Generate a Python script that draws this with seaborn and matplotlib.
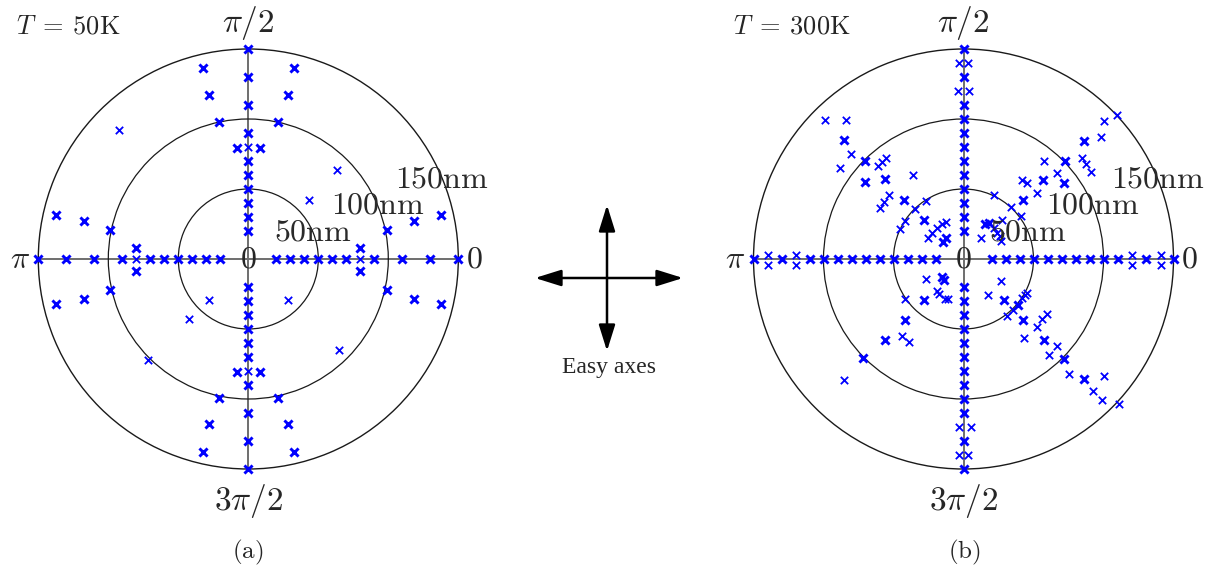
import numpy as np
import matplotlib
matplotlib.use("Agg")
import matplotlib.pyplot as plt
from matplotlib.patches import FancyArrowPatch
import seaborn as sns

# ---------------- data (positions in nm, x to the right, y up) ----------------
# Panel (a): T = 50 K
a_axis_up_y = [20, 30, 40, 50, 60, 70, 90, 110, 130, 150]
a_axis_down_y = [-20, -30, -40, -50, -60, -70, -90, -110, -130, -150]
a_axis_left_x = [-20, -30, -40, -50, -60, -70, -90, -110, -130, -150]
a_axis_right_x = [20, 30, 40, 50, 60, 70, 90, 110, 130, 150]
a_off_x = [-8.4, 8.4, -21.1, 21.1, -28.3, 28.3, -32.4, 32.4,
           -8.4, 8.4, -21.1, 21.1, -28.3, 28.3, -32.4, 32.4,
           -137.4, -117.5, -98.8, -79.9, -79.9, -98.8, -117.5, -137.4,
           137.9, 118.0, 99.0, 79.9, 79.9, 99.0, 118.0, 137.9]
a_off_y = [79.6, 79.6, 98.0, 98.0, 116.8, 116.8, 136.4, 136.4,
           -81.0, -81.0, -99.0, -99.0, -117.8, -117.8, -137.9, -137.9,
           31.2, 27.3, 20.9, 7.7, -8.4, -21.8, -28.5, -32.4,
           31.2, 27.3, 20.9, 7.7, -8.4, -21.8, -28.5, -32.4]
a_thin_x = [0, 0, -80, 80, -92.3, 63.5, 43.0, -28.3, 28.3, -42.7, 64.7, -71.5]
a_thin_y = [80, -80, 0, 0, 92.3, 63.5, 42.4, -29.5, -29.5, -43.2, -64.7, -72.0]

# Panel (b): T = 300 K
b_axis_up_y = [20, 30, 40, 50, 60, 70, 80, 90, 100, 110, 130, 150]
b_axis_down_y = [-20, -30, -40, -50, -60, -70, -80, -90, -100, -110, -130, -150]
b_axis_left_x = [-20, -30, -40, -50, -60, -70, -80, -90, -100, -110, -130, -150]
b_axis_right_x = [20, 30, 40, 50, 60, 70, 80, 90, 100, 110, 130, 150]
b_pair_x = [-3, 3, -4, 4, -3, 5, -3, 3, -140, -140, -120, -120, 120, 120, 141, 141]
b_pair_y = [140, 140, 120, 120, -120, -120, -140, -140, 3, -4, 3, -4, 3, -4, 3, -4]
b_bold_x = [-85.6, -70.7, -70.7, -56.4, -42.4, -28.1, -14.4, -12.5,
            85.9, 72.4, 71.9, 57.1, 42.7, 15.6, 18.0,
            -15.6, -13.9, -28.1, -42.0, -56.4, -71.5,
            28.8, 39.1, 42.7, 57.6, 71.9, 85.9]
b_bold_y = [84.9, 70.0, 54.9, 56.8, 42.4, 28.1, 12.5, 15.3,
            84.4, 69.8, 54.4, 56.4, 42.4, 24.9, 25.4,
            -12.7, -15.1, -29.0, -43.4, -57.8, -71.0,
            -29.0, -33.1, -43.4, -57.8, -71.5, -85.9]
b_thin_x = [-98.8, -83.9, -80.3, -88.2, -61.2, -58.3, -55.2, -36.0, -59.5, -56.8,
            -53.2, -34.3, -26.9, -45.1, -41.5, -25.7, -22.3, -19.2, -15.6, -12.7,
            109.6, 100.7, 98.3, 84.7, 87.5, 91.1, 57.6, 66.7, 42.0, 45.1,
            52.3, 21.6, 33.6, 40.8, 27.6, 21.6, 24.0, 26.4, 12.5, 27.1,
            -26.9, -18.7, -17.3, -13.2, -11.3, -41.5, -43.6, -38.8, -85.1,
            27.1, 17.3, 42.0, 43.9, 45.6, 35.5, 31.2, 52.3, 55.9, 59.5,
            43.2, 66.7, 61.2, 75.5, 100.7, 92.3, 99.0, 110.8]
b_thin_y = [99.5, 99.5, 75.3, 65.2, 66.4, 69.3, 72.0, 60.0, 36.5, 40.5,
            45.6, 35.7, 41.7, 21.6, 26.9, 14.9, 18.5, 22.1, 24.9, 26.1,
            102.9, 98.6, 86.8, 71.9, 68.1, 62.4, 69.8, 61.6, 56.1, 54.4,
            47.2, 45.6, 37.2, 30.5, 28.1, 22.1, 18.9, 16.1, 15.3, 13.2,
            -14.4, -23.0, -24.7, -28.3, -28.3, -28.3, -55.2, -59.5, -86.3,
            -15.8, -25.9, -27.8, -25.4, -24.0, -36.7, -41.0, -48.7, -43.2, -39.6,
            -56.4, -61.9, -68.3, -81.8, -83.5, -94.2, -100.7, -103.4]

theta_ticks = [0, np.pi / 2, np.pi, 3 * np.pi / 2]
theta_labels = [r"$0$", r"$\pi/2$", r"$\pi$", r"$3\pi/2$"]
ring_values = [50, 100]
r_label_values = [50, 100, 150]
r_label_texts = [r"$50\mathrm{nm}$", r"$100\mathrm{nm}$", r"$150\mathrm{nm}$"]
temp_labels = [r"$T\;=\:50\mathrm{K}$", r"$T\;=\:300\mathrm{K}$"]
panel_labels = [r"$(\mathrm{a})$", r"$(\mathrm{b})$"]

# ---------------- style ----------------
sns.set_style("white")
plt.rcParams["mathtext.fontset"] = "cm"
plt.rcParams["font.family"] = ["DejaVu Serif"]

W, H = 1217, 575
fig = plt.figure(figsize=(W / 100, H / 100), dpi=100)


def pol(xs, ys):
    xs = np.asarray(xs, float)
    ys = np.asarray(ys, float)
    return np.arctan2(ys, xs), np.hypot(xs, ys)


def axis_pts(up, down, left, right):
    xs = [0] * len(up) + [0] * len(down) + list(left) + list(right)
    ys = list(up) + list(down) + [0] * len(left) + [0] * len(right)
    return xs, ys


def setup(ax):
    ax.set_ylim(0, 150)
    ax.set_yticks(ring_values)
    ax.set_yticklabels([])
    ax.set_xticks(theta_ticks)
    ax.set_xticklabels([])
    ax.tick_params(length=0)
    ax.set_axisbelow(True)
    ax.xaxis.grid(True, color="#6e6e6e", lw=1.4)
    ax.yaxis.grid(True, color="#1a1a1a", lw=0.9)
    ax.spines["polar"].set_color("#1a1a1a")
    ax.spines["polar"].set_linewidth(1.0)
    # theta labels
    ax.text(1.018, 0.5, theta_labels[0], transform=ax.transAxes, ha="left", va="center", fontsize=23)
    ax.text(0.5, 1.017, theta_labels[1], transform=ax.transAxes, ha="center", va="bottom", fontsize=24)
    ax.text(-0.02, 0.5, theta_labels[2], transform=ax.transAxes, ha="right", va="center", fontsize=23)
    ax.text(0.5, -0.03, theta_labels[3], transform=ax.transAxes, ha="center", va="top", fontsize=24)
    # radial labels
    ax.text(0, 0, r"$0$", ha="center", va="center", fontsize=23, zorder=5)
    for rv, rt in zip(r_label_values, r_label_texts):
        ax.text(np.deg2rad(22.5), rv, rt, ha="center", va="center", fontsize=23, color="#2a2a2a", zorder=5)


def draw(ax, xs, ys, lw, s):
    th, r = pol(xs, ys)
    sns.scatterplot(x=th, y=r, ax=ax, marker="x", color="blue", s=s, linewidth=lw,
                    clip_on=False, zorder=4, legend=False)


R = 210
axA = fig.add_axes([(248.3 - R) / W, (H - 259 - R) / H, 2 * R / W, 2 * R / H], projection="polar")
axB = fig.add_axes([(963.5 - R) / W, (H - 259 - R) / H, 2 * R / W, 2 * R / H], projection="polar")

for ax in (axA, axB):
    setup(ax)

xs, ys = axis_pts(a_axis_up_y, a_axis_down_y, a_axis_left_x, a_axis_right_x)
draw(axA, xs, ys, 2.1, 34)
draw(axA, a_off_x, a_off_y, 2.1, 34)
draw(axA, a_thin_x, a_thin_y, 1.3, 28)

xs, ys = axis_pts(b_axis_up_y, b_axis_down_y, b_axis_left_x, b_axis_right_x)
draw(axB, xs, ys, 2.1, 34)
draw(axB, b_pair_x, b_pair_y, 1.3, 28)
draw(axB, b_bold_x, b_bold_y, 2.1, 34)
draw(axB, b_thin_x, b_thin_y, 1.3, 28)

for ax in (axA, axB):
    ax.set_xlabel("")
    ax.set_ylabel("")

# temperature and panel labels
fig.text(16 / W, 1 - 26 / H, temp_labels[0], ha="left", va="center", fontsize=19)
fig.text(733 / W, 1 - 26 / H, temp_labels[1], ha="left", va="center", fontsize=19)
fig.text(248 / W, 1 - 552 / H, panel_labels[0], ha="center", va="center", fontsize=18)
fig.text(964 / W, 1 - 552 / H, panel_labels[1], ha="center", va="center", fontsize=18)

# easy-axes arrows
style = "<|-|>,head_length=16,head_width=5"
for (x0, y0, x1, y1) in [(535, 278, 683, 278), (607, 205, 607, 351)]:
    arr = FancyArrowPatch((x0 / W, 1 - y0 / H), (x1 / W, 1 - y1 / H), transform=fig.transFigure,
                          arrowstyle=style, mutation_scale=1, color="black", lw=1.8,
                          shrinkA=0, shrinkB=0)
    fig.add_artist(arr)
fig.text(609 / W, 1 - 367 / H, "Easy axes", ha="center", va="center", fontsize=17,
         family=["Liberation Serif", "DejaVu Serif"])

fig.savefig("out.png", dpi=100)
